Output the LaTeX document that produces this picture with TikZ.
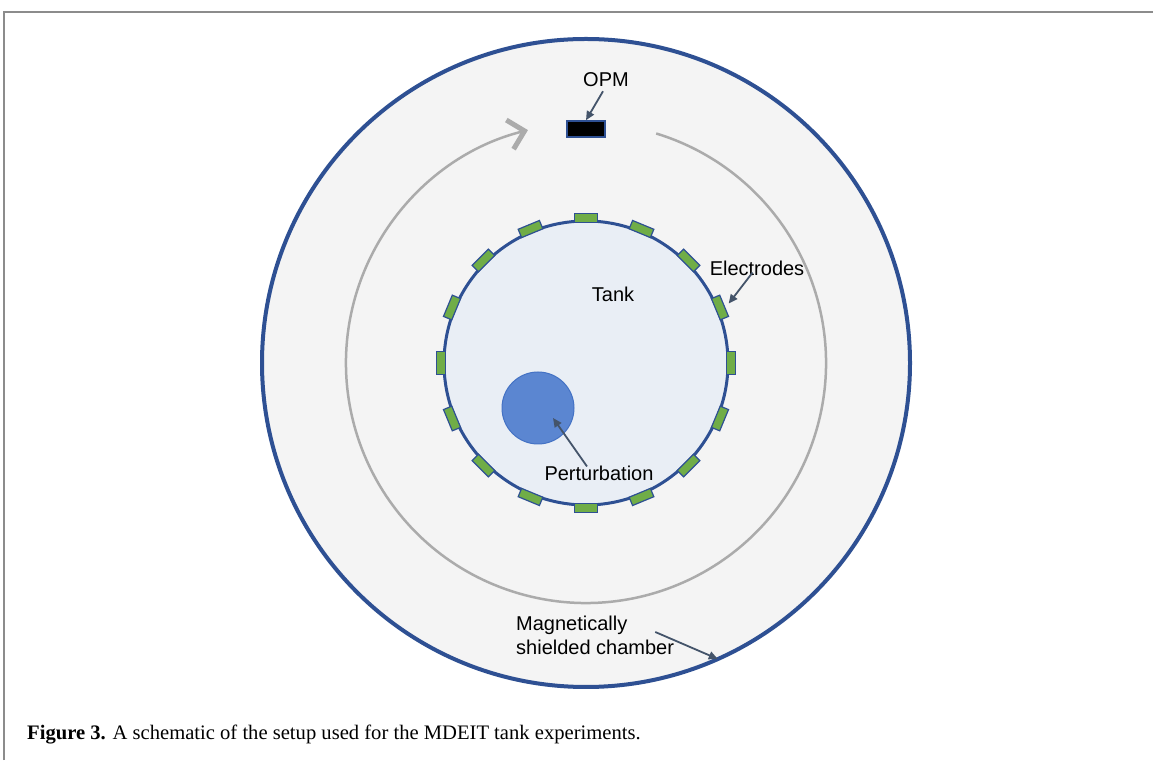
\documentclass[tikz,border=0pt]{standalone}
\usepackage{fontspec}
\setmainfont{Liberation Serif}
\setsansfont{Liberation Sans}
\usetikzlibrary{arrows.meta,calc}
\definecolor{chamberfill}{HTML}{F4F4F4}
\definecolor{darkblue}{HTML}{2E5093}
\definecolor{tankfill}{HTML}{E9EEF5}
\definecolor{elecgreen}{HTML}{70AD47}
\definecolor{pertfill}{HTML}{5B86D1}
\definecolor{pertline}{HTML}{4472C4}
\definecolor{arcgray}{HTML}{ABABAB}
\definecolor{pointer}{HTML}{44546A}
\definecolor{framegray}{HTML}{8C8C8C}
\begin{document}
\begin{tikzpicture}[x=1pt,y=1pt,
  lbl/.style={font=\sffamily\fontsize{20}{24}\selectfont, inner sep=1pt},
  ptr/.style={draw=pointer, line width=1.8pt, -{Triangle[length=9pt,width=8pt]}},
  elec/.style={draw=darkblue, fill=elecgreen, line width=1.2pt, minimum width=23pt, minimum height=9pt, inner sep=0pt},
  ring/.style={circle, inner sep=0pt, outer sep=0pt}]
\useasboundingbox (0,0) rectangle (1153,760);
\fill[white] (0,0) rectangle (1153,760);
\draw[framegray, line width=2pt] (4,0) -- (4,748) -- (1153,748);
% chamber
\node[ring, draw=darkblue, fill=chamberfill, line width=4pt, minimum size=648pt] (chamber) at (586,397) {};
% gray path arc
\coordinate (c) at (586,397);
\draw[arcgray, line width=2.5pt, -{Straight Barb[length=15pt,width=30pt,line width=5pt]}] ($(c)+(73:240)$) arc[start angle=73, end angle=-256, radius=240];
% tank
\node[ring, draw=darkblue, fill=tankfill, line width=3pt, minimum size=284pt] (tank) at (586,397) {};
\foreach \k in {0,...,15}{
  \pgfmathsetmacro{\a}{\k*22.5}
  \node[elec, rotate=\a-90] (e\k) at ($(c)+(\a:145)$) {};
}
% perturbation
\node[ring, draw=pertline, fill=pertfill, line width=1pt, minimum size=72pt] (pert) at (538,352) {};
% OPM
\node[draw=darkblue, fill=black, line width=1.5pt, minimum width=38pt, minimum height=16pt, inner sep=0pt] (opm) at (586,631) {};
% labels
\node[lbl] (opmlbl) at (606,680) {OPM};
\node[lbl] (tanklbl) at (613,466) {Tank};
\node[lbl] (eleclbl) at (757,492) {Electrodes};
\node[lbl] (pertlbl) at (599,287) {Perturbation};
\node[lbl, anchor=west, align=left] (chamberlbl) at (515,125) {Magnetically\\shielded chamber};
% pointers
\draw[ptr] ($(opmlbl.south)+(-3,-3)$) -- (opm.north);
\draw[ptr] ($(eleclbl.south west)+(44,4)$) -- ($(e1.north)+(4,2)$);
\coordinate (perttip) at ($(pert.center)+(15,-10)$);
\draw[ptr] ($(pertlbl.north)+(-12,-2)$) -- (perttip);
\draw[ptr] ($(chamberlbl.east)+(-20,3)$) -- (chamber.-66.5);
% caption
\node[anchor=base west, inner sep=0pt, font=\fontsize{20.6}{24}\selectfont] (caption) at (27,21) {\textbf{Figure 3.} A schematic of the setup used for the MDEIT tank experiments.};
\end{tikzpicture}
\end{document}
